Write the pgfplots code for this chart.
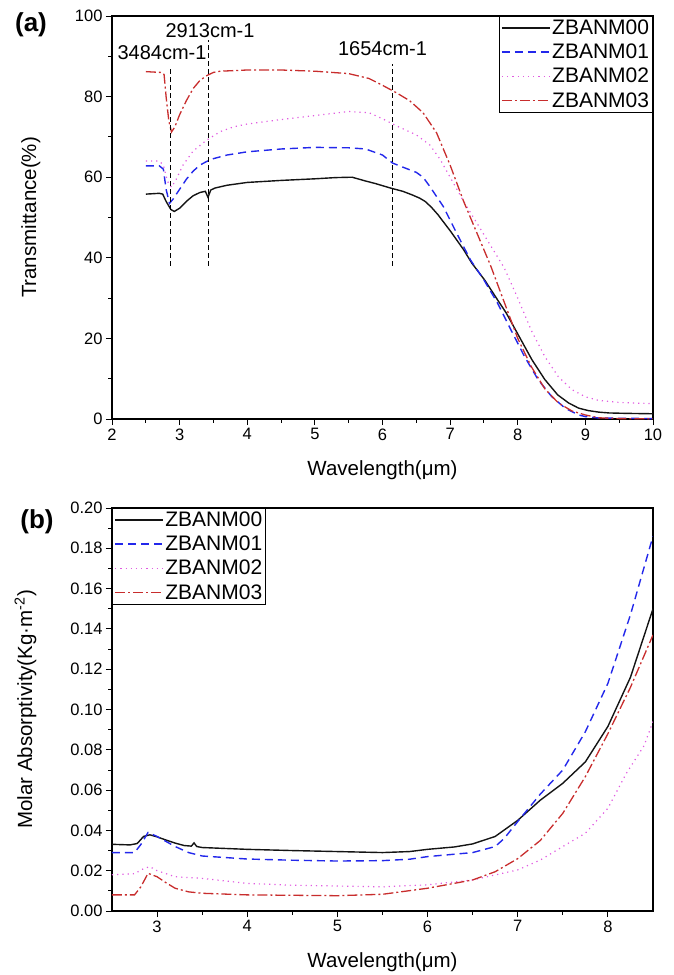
\documentclass[border=0pt]{standalone}
\usepackage{fontspec}
\setmainfont{Liberation Sans}
\usepackage{pgfplots}
\pgfplotsset{compat=1.18}

\definecolor{c00}{RGB}{20,20,20}
\definecolor{c01}{RGB}{35,40,235}
\definecolor{c02}{RGB}{225,90,225}
\definecolor{c03}{RGB}{200,45,45}

\pgfplotsset{
  panel/.style={
    scale only axis, width=541pt, height=403pt,
    tick align=outside, xtick pos=bottom, ytick pos=left,
    major tick length=6pt, minor tick length=3.5pt,
    every tick/.style={black, line width=0.9pt},
    axis line style={line width=1.1pt},
    /pgf/number format/assume math mode=true,
    tick label style={font=\fontsize{16.5}{18}\selectfont},
    label style={font=\fontsize{20.5}{23}\selectfont},
    legend cell align=left,
    legend image code/.code={\draw[##1] (0pt,0pt) -- (48pt,0pt);},
    legend style={draw=black, line width=0.9pt, font=\fontsize{21}{23}\selectfont,
      inner xsep=2pt, inner ysep=2pt, row sep=5pt,
      nodes={inner sep=1.5pt}},
  },
  s00/.style={c00, line width=1.4pt},
  s01/.style={c01, line width=1.4pt, dash pattern=on 8pt off 5pt},
  s02/.style={c02, line width=1.2pt, dash pattern=on 1.2pt off 4pt},
  s03/.style={c03, line width=1.3pt, dash pattern=on 10pt off 3pt on 2pt off 3pt},
  mark line/.style={black, line width=0.9pt, dash pattern=on 5pt off 3pt, forget plot},
}

\begin{document}
\begin{tikzpicture}
\useasboundingbox (-112pt,-556pt) rectangle (561pt,419pt);

% (a) transmittance
\begin{axis}[panel, name=pa, at={(0pt,0pt)}, anchor=south west,
  xmin=2, xmax=10, ymin=0, ymax=100,
  xtick={2,...,10}, minor x tick num=1,
  ytick={0,20,...,100}, minor y tick num=1,
  xlabel={Wavelength(μm)}, ylabel={Transmittance(\%)},
  xlabel style={at={(axis description cs:0.5,-0.127)}, anchor=center},
  ylabel style={at={(axis description cs:-0.15,0.5)}, anchor=center},
  legend style={at={(1,1)}, anchor=north east},
]
\addplot[s00] coordinates {(2.5,55.8)(2.6,55.9)(2.7,56.0)(2.75,55.8)(2.8,54.0)(2.87,52.0)(2.92,51.5)(3.0,52.3)(3.1,54.0)(3.2,55.4)(3.3,56.2)(3.38,56.5)(3.42,55.0)(3.46,56.8)(3.52,57.3)(3.7,58.0)(4.0,58.7)(4.5,59.2)(5.0,59.6)(5.3,59.9)(5.55,60.0)(5.74,59.1)(5.9,58.4)(6.12,57.3)(6.3,56.5)(6.44,55.6)(6.55,54.8)(6.63,54.0)(6.72,52.6)(6.82,50.7)(7.01,46.5)(7.2,42.0)(7.32,38.7)(7.51,34.5)(7.7,29.6)(7.83,26.3)(8.02,20.5)(8.21,14.7)(8.4,9.8)(8.59,6.0)(8.75,4.0)(8.9,2.7)(9.04,2.1)(9.2,1.7)(9.35,1.5)(9.6,1.4)(10,1.3)};
\addplot[s01] coordinates {(2.5,62.8)(2.7,62.8)(2.76,62.0)(2.8,57.0)(2.85,53.5)(2.9,54.5)(3.0,57.0)(3.1,59.5)(3.2,61.5)(3.3,63.0)(3.4,63.9)(3.5,64.6)(3.7,65.5)(4.0,66.3)(4.5,67.0)(5.0,67.4)(5.5,67.3)(5.75,67.0)(6.0,65.5)(6.15,63.5)(6.3,62.5)(6.5,61.2)(6.6,60.0)(6.7,57.7)(6.9,52.7)(7.1,46.0)(7.3,39.5)(7.5,34.5)(7.7,28.8)(7.9,22.1)(8.1,15.5)(8.3,9.8)(8.5,5.6)(8.7,2.7)(8.9,1.0)(9.0,0.6)(9.2,0.25)(10,0.1)};
\addplot[s02] coordinates {(2.5,64.0)(2.7,64.0)(2.76,63.0)(2.82,59.0)(2.88,57.5)(2.95,59.5)(3.05,63.0)(3.2,66.5)(3.4,69.2)(3.6,71.3)(3.8,72.5)(4.0,73.2)(4.5,74.3)(5.0,75.3)(5.5,76.3)(5.8,76.0)(6.0,74.5)(6.2,72.8)(6.5,70.5)(6.7,68.0)(6.85,64.5)(7.0,60.0)(7.2,54.0)(7.4,48.5)(7.6,43.0)(7.8,37.5)(8.0,30.0)(8.2,22.0)(8.4,15.5)(8.6,10.5)(8.8,7.3)(9.0,5.5)(9.2,4.6)(9.5,4.1)(10,3.8)};
\addplot[s03] coordinates {(2.5,86.2)(2.6,86.1)(2.72,86.0)(2.77,85.5)(2.8,80.0)(2.84,74.0)(2.88,71.2)(2.93,72.5)(3.0,75.5)(3.1,79.0)(3.2,82.0)(3.3,84.0)(3.4,85.2)(3.5,86.0)(3.6,86.3)(4.0,86.6)(4.5,86.6)(5.0,86.3)(5.5,85.7)(5.8,84.5)(6.0,82.8)(6.2,81.0)(6.4,79.0)(6.6,76.0)(6.8,71.0)(7.0,63.0)(7.2,54.0)(7.4,46.0)(7.6,38.0)(7.8,29.0)(8.0,20.0)(8.2,13.0)(8.4,7.5)(8.6,4.0)(8.8,2.0)(9.0,1.0)(9.2,0.3)(9.5,0.1)(10,0.05)};
\legend{ZBANM00,ZBANM01,ZBANM02,ZBANM03}
% marked absorption bands
\addplot[mark line] coordinates {(2.87,38)(2.87,87)};
\addplot[mark line] coordinates {(3.42,38)(3.42,94)};
\addplot[mark line] coordinates {(6.15,38)(6.15,88)};
\node[font=\fontsize{20}{22}\selectfont] at (axis cs:2.74,90.8) {3484cm-1};
\node[font=\fontsize{20}{22}\selectfont] at (axis cs:3.45,96.3) {2913cm-1};
\node[font=\fontsize{20}{22}\selectfont] at (axis cs:6.0,92) {1654cm-1};
\end{axis}
\node[font=\bfseries\fontsize{26}{28}\selectfont] at ([xshift=-81pt,yshift=-9pt]pa.north west) {(a)};

% (b) molar absorptivity
\begin{axis}[panel, name=pb, at={(0pt,-492pt)}, anchor=south west,
  xmin=2.5, xmax=8.5, ymin=0, ymax=0.20,
  xtick={3,...,8}, minor x tick num=1,
  ytick={0,0.02,...,0.201}, minor y tick num=1,
  yticklabel style={/pgf/number format/.cd, fixed, fixed zerofill, precision=2},
  scaled y ticks=false,
  xlabel={Wavelength(μm)}, ylabel={Molar Absorptivity(Kg·m\textsuperscript{-2})},
  xlabel style={at={(axis description cs:0.5,-0.127)}, anchor=center},
  ylabel style={at={(axis description cs:-0.16,0.5)}, anchor=center},
  legend style={at={(0,1)}, anchor=north west},
]
\addplot[s00] coordinates {(2.5,0.0331)(2.7,0.0328)(2.78,0.0335)(2.85,0.0370)(2.92,0.0378)(3.0,0.0368)(3.1,0.0352)(3.2,0.0337)(3.3,0.0325)(3.38,0.0322)(3.41,0.0338)(3.44,0.0320)(3.5,0.0315)(4.0,0.0306)(4.5,0.0300)(5.0,0.0295)(5.5,0.0290)(5.8,0.0295)(6.0,0.0306)(6.3,0.0318)(6.5,0.0333)(6.75,0.0370)(7.0,0.0450)(7.25,0.0550)(7.5,0.0634)(7.75,0.0740)(8.0,0.0916)(8.25,0.1160)(8.5,0.1500)};
\addplot[s01] coordinates {(2.5,0.029)(2.75,0.029)(2.82,0.033)(2.9,0.039)(3.0,0.037)(3.2,0.032)(3.35,0.029)(3.5,0.0273)(4.0,0.0258)(4.5,0.0252)(5.0,0.0248)(5.5,0.025)(5.8,0.0257)(6.0,0.027)(6.5,0.029)(6.75,0.032)(6.85,0.036)(7.0,0.0444)(7.25,0.058)(7.5,0.070)(7.75,0.089)(8.0,0.113)(8.25,0.147)(8.5,0.186)};
\addplot[s02] coordinates {(2.5,0.018)(2.75,0.0185)(2.85,0.021)(2.92,0.022)(3.0,0.020)(3.2,0.017)(3.5,0.0162)(4.0,0.0137)(4.5,0.0128)(5.0,0.0124)(5.5,0.012)(6.0,0.013)(6.5,0.0154)(7.0,0.0204)(7.25,0.0253)(7.5,0.032)(7.75,0.0386)(8.0,0.051)(8.2,0.068)(8.4,0.082)(8.5,0.094)};
\addplot[s03] coordinates {(2.5,0.008)(2.75,0.008)(2.82,0.012)(2.9,0.0187)(3.0,0.017)(3.1,0.014)(3.2,0.0113)(3.35,0.0095)(3.5,0.0088)(4.0,0.008)(4.5,0.0078)(5.0,0.0076)(5.5,0.0083)(6.0,0.0113)(6.5,0.0154)(6.75,0.0195)(7.0,0.026)(7.25,0.035)(7.5,0.0485)(7.75,0.0667)(8.0,0.088)(8.25,0.111)(8.5,0.137)};
\legend{ZBANM00,ZBANM01,ZBANM02,ZBANM03}
\end{axis}
\node[font=\bfseries\fontsize{26}{28}\selectfont] at ([xshift=-75pt,yshift=-14pt]pb.north west) {(b)};
\end{tikzpicture}
\end{document}
